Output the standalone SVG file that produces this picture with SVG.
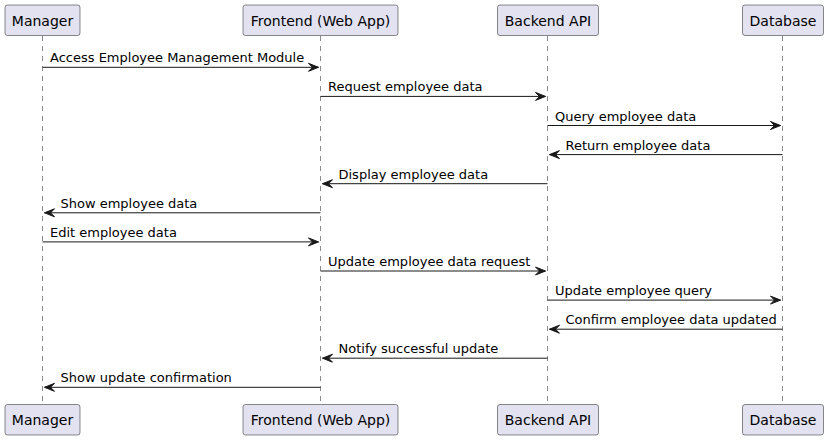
<svg xmlns="http://www.w3.org/2000/svg" width="828" height="440" viewBox="0 0 828 440">
<style>
.box{fill:#E2E2F0;stroke:#181818;stroke-width:0.5}
.pt{font-family:"DejaVu Sans",sans-serif;font-size:14px;fill:#000;text-anchor:middle}
.life{stroke:#181818;stroke-width:0.5;stroke-dasharray:5,5;fill:none}
.msg{stroke:#181818;stroke-width:1;fill:none}
.head{fill:#181818;stroke:#181818;stroke-width:1}
.mt{font-family:"DejaVu Sans",sans-serif;font-size:13px;fill:#000}
</style>
<rect width="828" height="440" fill="#FFFFFF"/>
<g id="lifelines">
<line class="life" x1="42.5" y1="36" x2="42.5" y2="404"/>
<line class="life" x1="320.5" y1="36" x2="320.5" y2="404"/>
<line class="life" x1="547.5" y1="36" x2="547.5" y2="404"/>
<line class="life" x1="782.5" y1="36" x2="782.5" y2="404"/>
</g>
<g id="manager">
<rect class="box" x="5" y="5" width="75" height="30.5" rx="2.5"/>
<text class="pt" x="42.5" y="25.5">Manager</text>
<rect class="box" x="5" y="404.5" width="75" height="30.5" rx="2.5"/>
<text class="pt" x="42.5" y="425">Manager</text>
</g>
<g id="frontend">
<rect class="box" x="243" y="5" width="155" height="30.5" rx="2.5"/>
<text class="pt" x="320.5" y="25.5">Frontend (Web App)</text>
<rect class="box" x="243" y="404.5" width="155" height="30.5" rx="2.5"/>
<text class="pt" x="320.5" y="425">Frontend (Web App)</text>
</g>
<g id="backend">
<rect class="box" x="497.5" y="5" width="101" height="30.5" rx="2.5"/>
<text class="pt" x="548" y="25.5">Backend API</text>
<rect class="box" x="497.5" y="404.5" width="101" height="30.5" rx="2.5"/>
<text class="pt" x="548" y="425">Backend API</text>
</g>
<g id="database">
<rect class="box" x="742.5" y="5" width="81" height="30.5" rx="2.5"/>
<text class="pt" x="783" y="25.5">Database</text>
<rect class="box" x="742.5" y="404.5" width="81" height="30.5" rx="2.5"/>
<text class="pt" x="783" y="425">Database</text>
</g>
<g id="connectors">
<!-- 1 Manager -> Frontend -->
<line class="msg" x1="42.5" y1="67.3" x2="318.5" y2="67.3"/>
<polygon class="head" points="308.5,63.3 318.5,67.3 308.5,71.3 312.5,67.3"/>
<text class="mt" x="50" y="62.3">Access Employee Management Module</text>
<!-- 2 Frontend -> Backend -->
<line class="msg" x1="320.5" y1="96.4" x2="545.5" y2="96.4"/>
<polygon class="head" points="535.5,92.4 545.5,96.4 535.5,100.4 539.5,96.4"/>
<text class="mt" x="328" y="91.4">Request employee data</text>
<!-- 3 Backend -> Database -->
<line class="msg" x1="547.5" y1="125.5" x2="780.5" y2="125.5"/>
<polygon class="head" points="770.5,121.5 780.5,125.5 770.5,129.5 774.5,125.5"/>
<text class="mt" x="555" y="120.5">Query employee data</text>
<!-- 4 Database -> Backend -->
<line class="msg" x1="549.5" y1="154.6" x2="782.5" y2="154.6"/>
<polygon class="head" points="559.5,150.6 549.5,154.6 559.5,158.6 555.5,154.6"/>
<text class="mt" x="565.5" y="149.6">Return employee data</text>
<!-- 5 Backend -> Frontend -->
<line class="msg" x1="322.5" y1="183.7" x2="547.5" y2="183.7"/>
<polygon class="head" points="332.5,179.7 322.5,183.7 332.5,187.7 328.5,183.7"/>
<text class="mt" x="338.5" y="178.7">Display employee data</text>
<!-- 6 Frontend -> Manager -->
<line class="msg" x1="44.5" y1="212.8" x2="320.5" y2="212.8"/>
<polygon class="head" points="54.5,208.8 44.5,212.8 54.5,216.8 50.5,212.8"/>
<text class="mt" x="60.5" y="207.8">Show employee data</text>
<!-- 7 Manager -> Frontend -->
<line class="msg" x1="42.5" y1="241.9" x2="318.5" y2="241.9"/>
<polygon class="head" points="308.5,237.9 318.5,241.9 308.5,245.9 312.5,241.9"/>
<text class="mt" x="50" y="236.9">Edit employee data</text>
<!-- 8 Frontend -> Backend -->
<line class="msg" x1="320.5" y1="271" x2="545.5" y2="271"/>
<polygon class="head" points="535.5,267 545.5,271 535.5,275 539.5,271"/>
<text class="mt" x="328" y="266">Update employee data request</text>
<!-- 9 Backend -> Database -->
<line class="msg" x1="547.5" y1="300.1" x2="780.5" y2="300.1"/>
<polygon class="head" points="770.5,296.1 780.5,300.1 770.5,304.1 774.5,300.1"/>
<text class="mt" x="555" y="295.1">Update employee query</text>
<!-- 10 Database -> Backend -->
<line class="msg" x1="549.5" y1="329.2" x2="782.5" y2="329.2"/>
<polygon class="head" points="559.5,325.2 549.5,329.2 559.5,333.2 555.5,329.2"/>
<text class="mt" x="565.5" y="324.2">Confirm employee data updated</text>
<!-- 11 Backend -> Frontend -->
<line class="msg" x1="322.5" y1="358.2" x2="547.5" y2="358.2"/>
<polygon class="head" points="332.5,354.2 322.5,358.2 332.5,362.2 328.5,358.2"/>
<text class="mt" x="338.5" y="353.2">Notify successful update</text>
<!-- 12 Frontend -> Manager -->
<line class="msg" x1="44.5" y1="387.3" x2="320.5" y2="387.3"/>
<polygon class="head" points="54.5,383.3 44.5,387.3 54.5,391.3 50.5,387.3"/>
<text class="mt" x="60.5" y="382.3">Show update confirmation</text>
</g>
</svg>
